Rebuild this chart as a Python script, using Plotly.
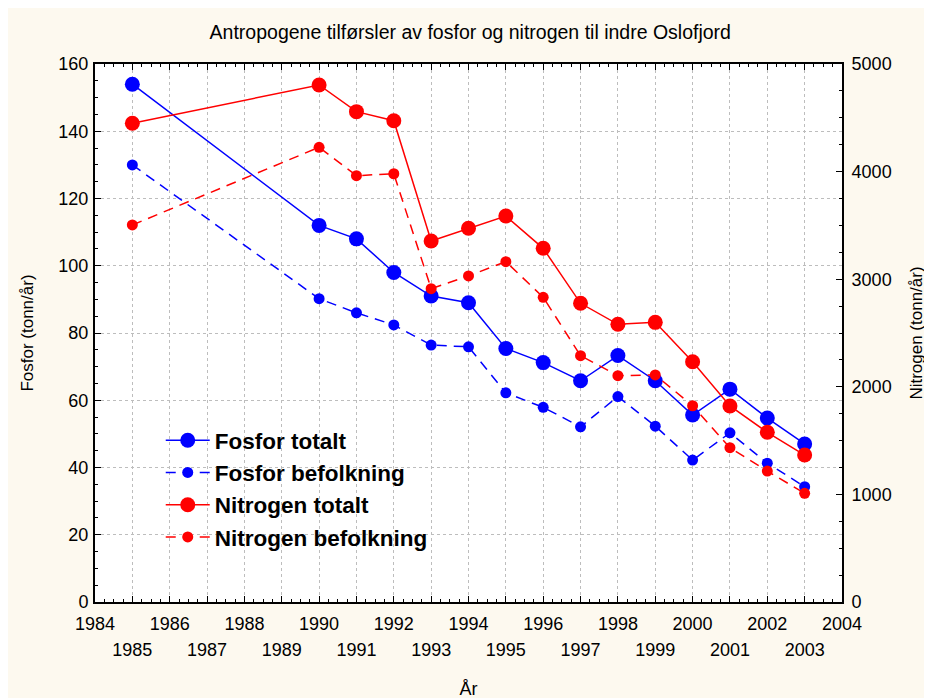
import plotly.graph_objects as go

years = [1985, 1990, 1991, 1992, 1993, 1994, 1995, 1996, 1997, 1998, 1999, 2000, 2001, 2002, 2003]
fosfor_totalt = [154, 112, 108, 98, 91, 89, 75.4, 71.2, 65.8, 73.3, 65.8, 55.6, 63.3, 54.7, 47.0]
fosfor_befolkning = [130, 90.2, 86.0, 82.4, 76.4, 75.9, 62.2, 57.9, 52.1, 61.1, 52.3, 42.2, 50.3, 41.3, 34.3]
nitrogen_totalt = [4449, 4805, 4557, 4473, 3355, 3473, 3587, 3287, 2776, 2581, 2599, 2233, 1822, 1577, 1366]
nitrogen_befolkning = [3504, 4226, 3962, 3980, 2912, 3030, 3163, 2832, 2289, 2103, 2110, 1824, 1434, 1217, 1010]

tick_years = list(range(1984, 2005))
tick_text_even = [str(y) if y % 2 == 0 else "" for y in tick_years]
odd_years = [y for y in tick_years if y % 2 == 1]
odd_text = [str(y) for y in odd_years]

BLUE = "#0000FF"
RED = "#FF0000"
FONT = "Liberation Sans, Arial, sans-serif"

fig = go.Figure()
fig.add_trace(go.Scatter(x=years, y=fosfor_totalt, name="Fosfor totalt", mode="lines+markers",
                         line=dict(color=BLUE, width=1.5), marker=dict(size=15, color=BLUE)))
fig.add_trace(go.Scatter(x=years, y=fosfor_befolkning, name="Fosfor befolkning", mode="lines+markers",
                         line=dict(color=BLUE, width=1.5, dash="10px,7px"), marker=dict(size=11, color=BLUE)))
fig.add_trace(go.Scatter(x=years, y=nitrogen_totalt, name="Nitrogen totalt", mode="lines+markers",
                         xaxis="x2", yaxis="y2",
                         line=dict(color=RED, width=1.5), marker=dict(size=15, color=RED)))
fig.add_trace(go.Scatter(x=years, y=nitrogen_befolkning, name="Nitrogen befolkning", mode="lines+markers",
                         xaxis="x2", yaxis="y2",
                         line=dict(color=RED, width=1.5, dash="10px,7px"), marker=dict(size=11, color=RED)))

fig.update_layout(
    width=932, height=698,
    margin=dict(l=87, r=98, t=56, b=104),
    paper_bgcolor="#FDF9EF",
    plot_bgcolor="white",
    font=dict(family=FONT, color="black", size=18),
    title=dict(text="Antropogene tilførsler av fosfor og nitrogen til indre Oslofjord",
               x=0.496, xanchor="center", xref="container", y=0.966, yref="container", yanchor="middle",
               font=dict(size=19.5, family=FONT, color="black")),
    showlegend=True,
    legend=dict(x=0.088, y=0.34, xanchor="left", yanchor="top", bgcolor="rgba(0,0,0,0)",
                font=dict(size=22.5, family=FONT, color="black", weight="bold"),
                tracegroupgap=0, itemwidth=44),
    xaxis=dict(range=[1984, 2004], tickvals=tick_years, ticktext=tick_text_even, tickangle=0,
               automargin=False, ticklabelstandoff=4,
               ticks="inside", ticklen=6, tickwidth=1, tickcolor="black",
               showline=True, linecolor="black", linewidth=2, mirror="allticks",
               showgrid=True, gridcolor="#BDBDBD", griddash="dot", gridwidth=1,
               zeroline=False,
               minor=dict(dtick=0.25, ticks="inside", ticklen=3, tickcolor="black", showgrid=False),
               title=dict(text="År", font=dict(size=18), standoff=50),
               tickfont=dict(size=18)),
    xaxis2=dict(range=[1984, 2004], overlaying="x", anchor="y2", side="bottom",
                tickvals=odd_years, ticktext=odd_text, tickangle=0,
                automargin=False, ticklabelstandoff=35, ticks="",
                showline=False, showgrid=False, zeroline=False,
                tickfont=dict(size=18)),
    yaxis=dict(range=[0, 160], dtick=20, ticks="inside", ticklen=6, tickcolor="black",
               automargin=False, ticklabelstandoff=1,
               showline=True, linecolor="black", linewidth=2, mirror=True,
               showgrid=True, gridcolor="#BDBDBD", griddash="dot", gridwidth=1,
               zeroline=False,
               minor=dict(dtick=5, ticks="inside", ticklen=3, tickcolor="black", showgrid=False),
               title=dict(text="Fosfor (tonn/år)", font=dict(size=17), standoff=20),
               tickfont=dict(size=18)),
    yaxis2=dict(range=[0, 5000], dtick=1000, overlaying="y", side="right", anchor="x",
                automargin=False, ticklabelstandoff=4,
                ticks="inside", ticklen=6, tickcolor="black",
                showline=True, linecolor="black", linewidth=2,
                showgrid=False, zeroline=False,
                minor=dict(dtick=250, ticks="inside", ticklen=3, tickcolor="black", showgrid=False),
                title=dict(text="Nitrogen (tonn/år)", font=dict(size=17), standoff=19),
                tickfont=dict(size=18)),
)

fig.write_html("out.html")
